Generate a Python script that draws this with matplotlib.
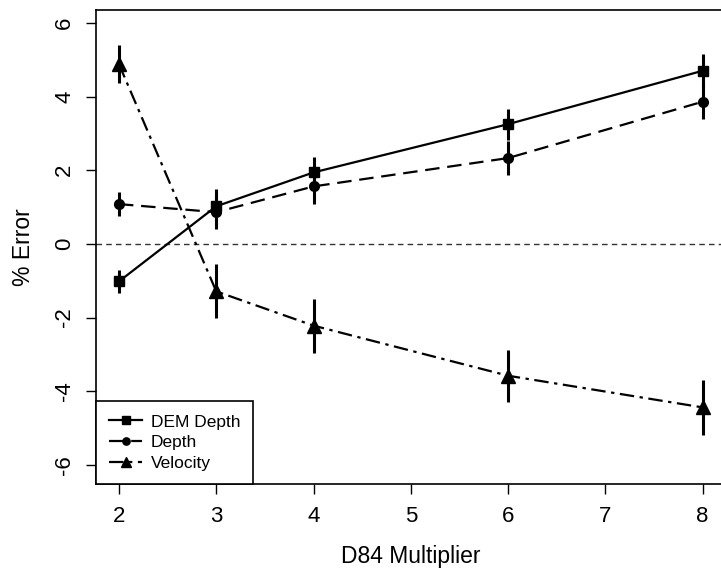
import matplotlib
matplotlib.use("Agg")
import matplotlib.pyplot as plt

plt.rcParams['font.family'] = ['Liberation Sans', 'DejaVu Sans']
plt.rcParams['axes.unicode_minus'] = False

# D84 multiplier
multiplier = [2, 3, 4, 6, 8]

# % error and error bar half-widths
dem_depth = [-1.02, 1.02, 1.94, 3.25, 4.70]
dem_depth_err = [0.31, 0.48, 0.43, 0.42, 0.45]
depth = [1.08, 0.86, 1.56, 2.33, 3.86]
depth_err = [0.33, 0.45, 0.48, 0.47, 0.47]
velocity = [4.88, -1.29, -2.22, -3.58, -4.44]
velocity_err = [0.52, 0.73, 0.73, 0.70, 0.75]

xticks = [2, 3, 4, 5, 6, 7, 8]
yticks = [-6, -4, -2, 0, 2, 4, 6]

fig = plt.figure(figsize=(7.21, 5.69), dpi=100)
# the right edge of the plot box falls just outside the picture, as in the original
ax = fig.add_axes([96 / 721, 1 - 484 / 569, 630 / 721, 474 / 569])

# zero reference line
ax.axhline(0, color='#333333', lw=1.0, ls=(0, (4, 3)), zorder=1)

series = [
    (dem_depth, dem_depth_err, 's', 7.5, '-', 'DEM Depth'),
    (depth, depth_err, 'o', 7, (0, (6.5, 3.5)), 'Depth'),
    (velocity, velocity_err, '^', 10, (0, (6.5, 2.5, 1.5, 2.5)), 'Velocity'),
]
for vals, errs, mk, ms, ls, lab in series:
    ax.errorbar(multiplier, vals, yerr=errs, fmt='none', ecolor='black',
                elinewidth=2.2, capsize=0, zorder=2)
    ax.plot(multiplier, vals, color='black', lw=1.6, ls=ls, marker=mk,
            markersize=ms, label=lab, zorder=3)

ax.set_xlim(1.764, 8.24)
ax.set_ylim(-6.52, 6.35)
ax.set_xticks(xticks)
ax.set_yticks(yticks)
ax.tick_params(direction='out', length=7, width=1, labelsize=16)
ax.tick_params(axis='x', pad=9)
ax.tick_params(axis='y', pad=8)
for lbl in ax.get_yticklabels():
    lbl.set_rotation(90)
    lbl.set_va('center')
for sp in ax.spines.values():
    sp.set_linewidth(1.2)

ax.set_xlabel('D84 Multiplier', fontsize=16.5, labelpad=13)
ax.set_ylabel('% Error', fontsize=16.5, labelpad=14)

leg = ax.legend(loc='lower left', borderaxespad=0, fancybox=False,
                edgecolor='black', framealpha=1, fontsize=12.5,
                handlelength=1.9, labelspacing=0.32, borderpad=0.75,
                handletextpad=0.5, markerscale=0.75)
leg.get_frame().set_linewidth(1.2)

fig.savefig('out.png', dpi=100)
